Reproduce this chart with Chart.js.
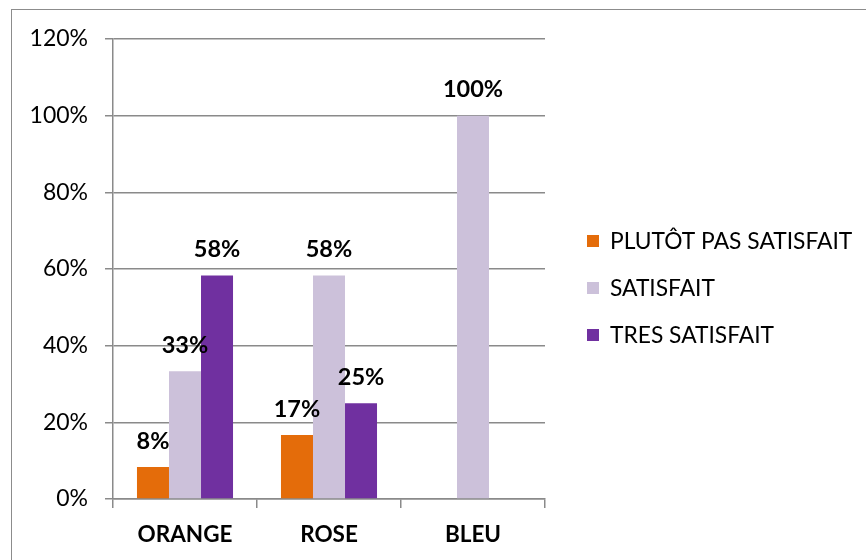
<!DOCTYPE html>
<html>
<head>
<meta charset="utf-8">
<script src="https://cdn.jsdelivr.net/npm/chart.js@4"></script>
<style>
  body { margin: 0; background: #fff; }
  #wrap { position: relative; width: 866px; height: 560px; }
  #frame { position: absolute; left: 11px; top: 9px; width: 900px; height: 600px; border: 1.5px solid #8c8c8c; box-sizing: border-box; pointer-events: none; }
</style>
</head>
<body>
<div id="wrap">
  <canvas id="myChart" width="866" height="560"></canvas>
  <div id="frame"></div>
</div>
<script>
// data
const categories = ["ORANGE", "ROSE", "BLEU"];
const plutotPasSatisfait = [8.33, 16.67, null];
const satisfait = [33.33, 58.33, 100];
const tresSatisfait = [58.33, 25, null];
const yTicks = [0, 20, 40, 60, 80, 100, 120];

const FONT = "Lato, 'Liberation Sans', sans-serif";
const GRID = "#8a8a8a";

// value labels above the bars
const barLabels = {
  id: "barLabels",
  afterDatasetsDraw(chart) {
    const ctx = chart.ctx;
    ctx.save();
    ctx.font = "bold 23.5px " + FONT;
    ctx.fillStyle = "#000";
    ctx.textAlign = "center";
    ctx.textBaseline = "middle";
    chart.data.datasets.forEach((ds, i) => {
      chart.getDatasetMeta(i).data.forEach((bar, j) => {
        const v = ds.data[j];
        if (v == null) return;
        ctx.fillText(Math.round(v) + "%", bar.x, bar.y - 26);
      });
    });
    ctx.restore();
  }
};

// legend on the right
const sideLegend = {
  id: "sideLegend",
  afterDraw(chart) {
    const ctx = chart.ctx;
    ctx.save();
    ctx.font = "22.8px " + FONT;
    ctx.textBaseline = "middle";
    chart.data.datasets.forEach((ds, i) => {
      const y = 241 + i * 47;
      ctx.fillStyle = ds.backgroundColor;
      ctx.fillRect(587, y - 6, 12, 12);
      ctx.fillStyle = "#000";
      ctx.fillText(ds.label, 610, y + 1);
    });
    ctx.restore();
  }
};

const ctx = document.getElementById("myChart").getContext("2d");
const chart = new Chart(ctx, {
  type: "bar",
  data: {
    labels: categories,
    datasets: [
      { label: "PLUTÔT PAS SATISFAIT", backgroundColor: "#E46C0A", data: plutotPasSatisfait },
      { label: "SATISFAIT", backgroundColor: "#CCC1DA", data: satisfait },
      { label: "TRES SATISFAIT", backgroundColor: "#7030A0", data: tresSatisfait }
    ]
  },
  plugins: [barLabels, sideLegend],
  options: {
    responsive: false,
    animation: false,
    layout: { padding: { left: 0, right: 321, top: 39, bottom: 0 } },
    plugins: { legend: { display: false }, tooltip: { enabled: false } },
    datasets: { bar: { categoryPercentage: 0.667, barPercentage: 1 } },
    scales: {
      x: {
        afterFit(scale) { scale.height = 61; },
        grid: { offset: true, drawOnChartArea: false, drawTicks: true, tickLength: 9, color: GRID, lineWidth: 1.5 },
        border: { display: true, color: GRID, width: 1.5 },
        ticks: { color: "#000", font: { family: FONT, size: 22.5, weight: "bold" }, padding: 13 }
      },
      y: {
        min: 0,
        max: 120,
        afterFit(scale) { scale.width = 113; },
        afterBuildTicks(scale) { scale.ticks = yTicks.map(v => ({ value: v })); },
        grid: { color: GRID, lineWidth: 1.5, tickLength: 8 },
        border: { display: true, color: GRID, width: 1.5 },
        ticks: { color: "#000", font: { family: FONT, size: 23 }, padding: 17, callback: v => v + "%" }
      }
    }
  }
});
</script>
</body>
</html>
